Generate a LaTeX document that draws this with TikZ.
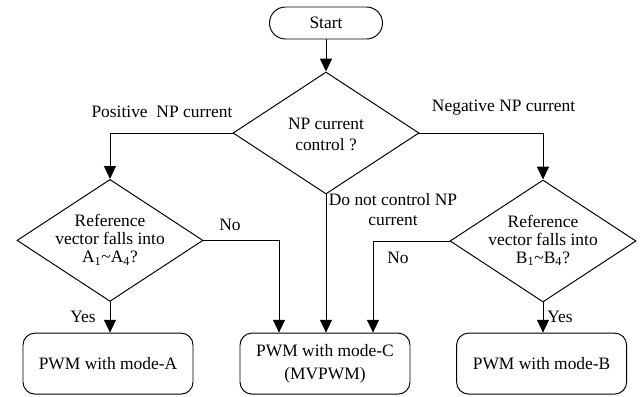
\documentclass[tikz,border=0pt]{standalone}
\usepackage{fontspec}
\setmainfont{Liberation Serif}
\usepackage{tikz}
\usetikzlibrary{shapes.geometric, arrows.meta, positioning, calc}

\begin{document}
\begin{tikzpicture}[
    every node/.style={font=\rmfamily\fontsize{12.4}{15}\selectfont},
    line width=0.7pt,
    arr/.style={-{Triangle[length=0.32cm, width=0.3cm]}},
    startbox/.style={draw, rounded corners=0.4cm, minimum width=2.825cm, minimum height=0.8cm, inner sep=0},
    decision/.style={draw, diamond, minimum width=4.65cm, minimum height=3.05cm, inner sep=0},
    procbox/.style={draw, rounded corners=0.3cm, minimum width=4.25cm, minimum height=1.525cm, inner sep=0, align=center}
  ]
  \useasboundingbox (0,0) rectangle (16.05,-9.9);
  \node [startbox] at (8.15,-0.575) (start) {Start};
  \node [decision] at (8.15,-3.325) (dec) {};
  \node [align=center, font=\rmfamily\fontsize{12.4}{14.9}\selectfont] at (8.15,-3.36) (dectxt) {NP current\\control ?};
  \node [decision] at (2.75,-6.01) (decA) {};
  \node [align=center, font=\rmfamily\fontsize{12.4}{12.8}\selectfont] at (2.75,-6.0) (decAtxt) {Reference\\vector falls into\\A\textsubscript{1}\textasciitilde A\textsubscript{4}?};
  \node [decision] at (13.575,-6.025) (decB) {};
  \node [align=center, font=\rmfamily\fontsize{12.4}{12.8}\selectfont] at (13.575,-6.01) (decBtxt) {Reference\\vector falls into\\B\textsubscript{1}\textasciitilde B\textsubscript{4}?};
  \node [procbox] at (2.7,-9.09) (boxA) {PWM with mode-A};
  \node [procbox, font=\rmfamily\fontsize{12.4}{16.3}\selectfont] at (8.125,-9.09) (boxC) {PWM with mode-C\\(MVPWM)};
  \node [procbox] at (13.54,-9.09) (boxB) {PWM with mode-B};
  \coordinate (inCl) at ($(boxC.north)+(-1.15,0)$);
  \coordinate (inCr) at ($(boxC.north)+(1.2,0)$);

  \draw [arr] (start) -- (dec);
  \draw [arr] (dec.west) -| (decA.north);
  \draw [arr] (dec.east) -| (decB.north);
  \draw [arr] (dec.south) -- (dec.south |- boxC.north);
  \draw [arr] (decA.east) -| (inCl);
  \draw [arr] (decB.west) -| (inCr);
  \draw [arr] (decA.south) -- (decA.south |- boxA.north);
  \draw [arr] (decB.south) -- (decB.south |- boxB.north);

  \node at (4.05,-2.8) (pos) {Positive\ \ NP current};
  \node at (12.59,-2.7) (neg) {Negative NP current};
  \node [align=center, font=\rmfamily\fontsize{12.4}{14.2}\selectfont] at (9.825,-5.25) (noctl) {Do not control NP\\current};
  \node at (5.75,-5.625) (noA) {No};
  \node at (9.95,-6.45) (noB) {No};
  \node at (2.075,-7.925) (yesA) {Yes};
  \node at (14.0,-7.925) (yesB) {Yes};
\end{tikzpicture}
\end{document}
